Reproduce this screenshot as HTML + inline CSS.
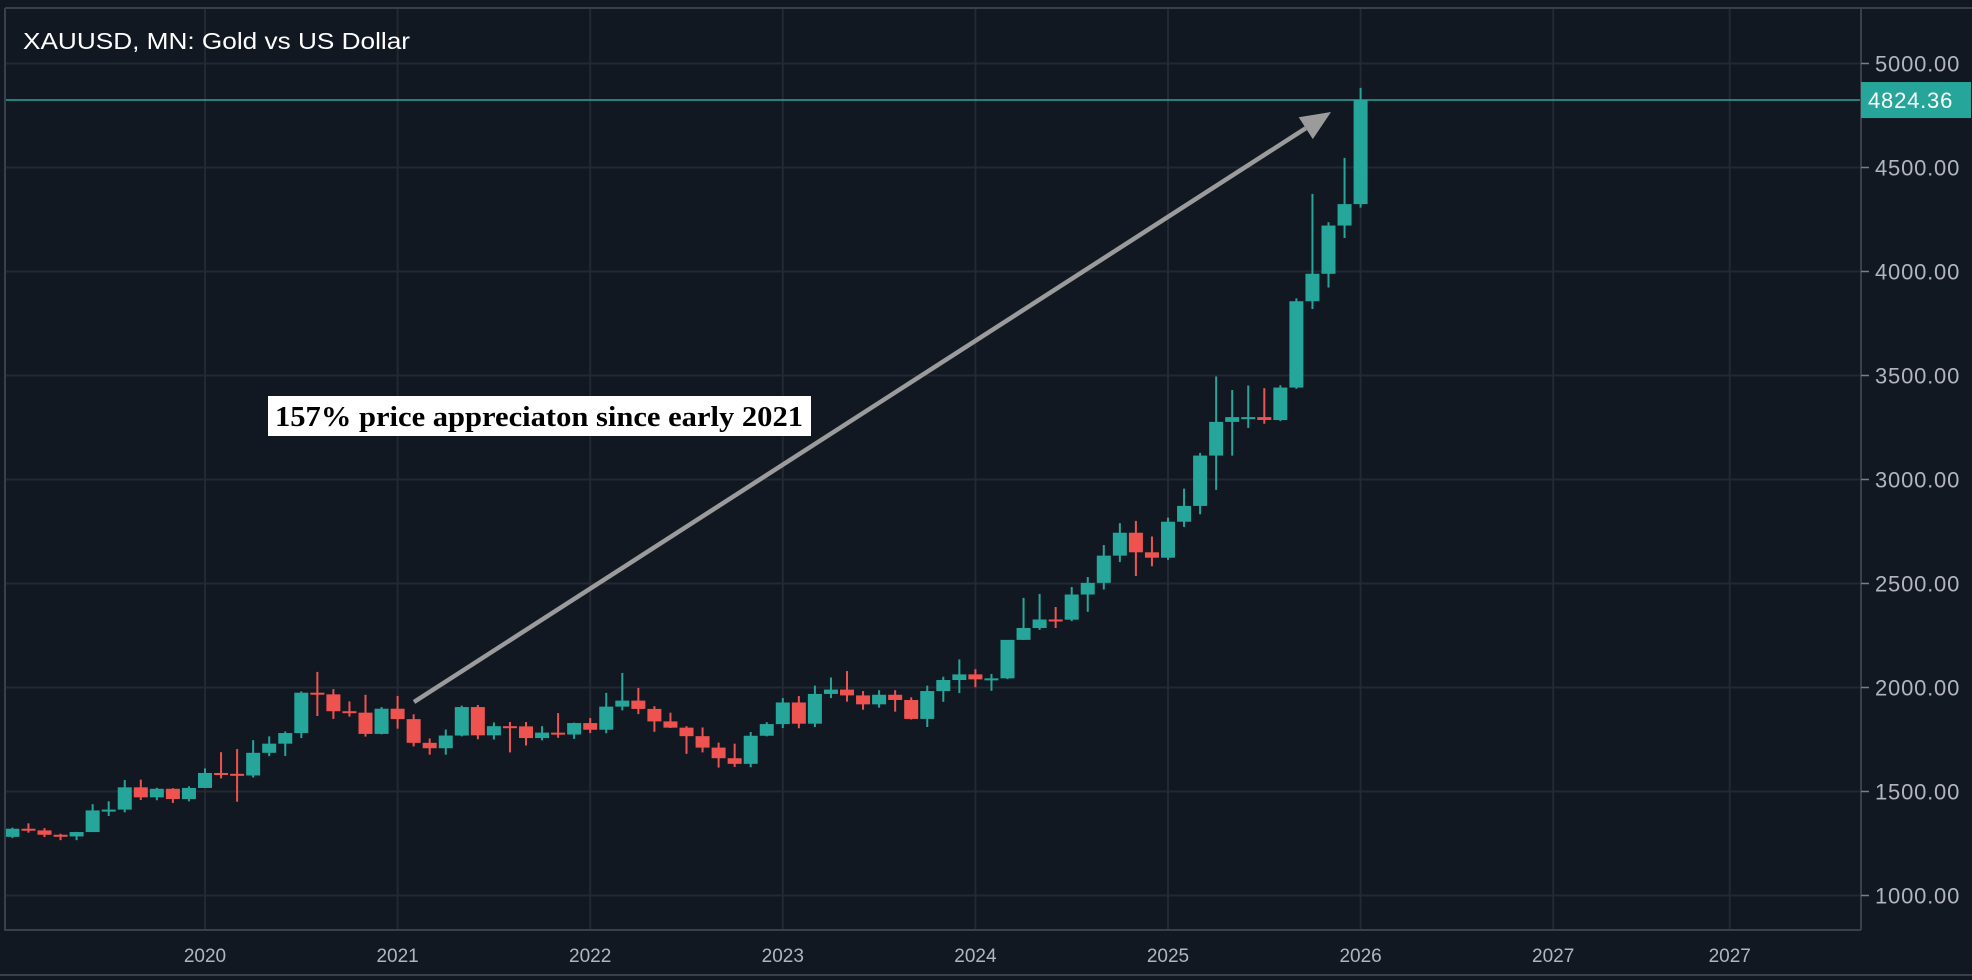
<!DOCTYPE html>
<html><head><meta charset="utf-8"><style>
html,body{margin:0;padding:0;background:#121822;}
svg{display:block;}
text{font-family:"Liberation Sans","DejaVu Sans",sans-serif;}
</style></head>
<body>
<svg id="chart" width="1972" height="980" viewBox="0 0 1972 980" xmlns="http://www.w3.org/2000/svg">
<rect x="0" y="0" width="1972" height="980" fill="#121822"/>
<g id="grid"></g>
<g id="candles"></g>
<g id="axes"></g>
</svg>
<script>
// monthly candles Jan 2019 .. Jan 2026
const months = ["2019-01","2019-02","2019-03","2019-04","2019-05","2019-06","2019-07","2019-08","2019-09","2019-10","2019-11","2019-12",
"2020-01","2020-02","2020-03","2020-04","2020-05","2020-06","2020-07","2020-08","2020-09","2020-10","2020-11","2020-12",
"2021-01","2021-02","2021-03","2021-04","2021-05","2021-06","2021-07","2021-08","2021-09","2021-10","2021-11","2021-12",
"2022-01","2022-02","2022-03","2022-04","2022-05","2022-06","2022-07","2022-08","2022-09","2022-10","2022-11","2022-12",
"2023-01","2023-02","2023-03","2023-04","2023-05","2023-06","2023-07","2023-08","2023-09","2023-10","2023-11","2023-12",
"2024-01","2024-02","2024-03","2024-04","2024-05","2024-06","2024-07","2024-08","2024-09","2024-10","2024-11","2024-12",
"2025-01","2025-02","2025-03","2025-04","2025-05","2025-06","2025-07","2025-08","2025-09","2025-10","2025-11","2025-12","2026-01"];
const opens = [1282,1321,1313,1292,1284,1305,1409,1413,1520,1472,1513,1464,
1517,1589,1585,1577,1686,1730,1781,1975,1967,1886,1879,1777,
1898,1848,1734,1708,1769,1906,1770,1814,1813,1757,1783,1774,
1829,1797,1908,1937,1897,1837,1807,1766,1711,1660,1633,1768,
1824,1928,1826,1969,1990,1962,1919,1965,1940,1849,1983,2036,
2063,2039,2044,2229,2286,2327,2326,2447,2503,2634,2744,2650,
2624,2797,2873,3115,3277,3300,3300,3286,3442,3857,3989,4221,4324];
const highs = [1326,1347,1324,1297,1306,1439,1453,1555,1557,1518,1516,1525,
1611,1689,1704,1747,1765,1789,1981,2075,1992,1933,1965,1906,
1959,1871,1755,1798,1913,1916,1832,1834,1834,1814,1877,1831,
1853,1974,2070,1998,1910,1879,1814,1808,1735,1730,1786,1833,
1949,1959,2009,2048,2079,1983,1987,1987,1953,2009,2052,2135,
2088,2065,2223,2431,2450,2387,2483,2531,2685,2790,2801,2726,
2817,2956,3128,3495,3430,3452,3439,3453,3871,4373,4237,4546,4883];
const lows = [1276,1302,1281,1266,1266,1305,1382,1400,1459,1458,1445,1453,
1517,1563,1451,1567,1670,1671,1757,1863,1849,1860,1764,1775,
1802,1717,1677,1677,1765,1751,1750,1688,1721,1746,1758,1753,
1781,1780,1890,1872,1787,1805,1681,1688,1615,1618,1617,1765,
1805,1804,1810,1949,1932,1893,1903,1884,1846,1810,1931,1973,
2001,1984,2040,2228,2277,2286,2319,2364,2471,2603,2536,2583,
2614,2772,2833,2950,3115,3248,3268,3281,3436,3820,3923,4161,4307];
const closes = [1321,1313,1292,1284,1305,1409,1413,1520,1472,1513,1464,1517,
1589,1585,1577,1686,1730,1781,1975,1967,1886,1879,1777,1898,
1848,1734,1708,1769,1906,1770,1814,1813,1757,1783,1774,1829,
1797,1908,1937,1897,1837,1807,1766,1711,1660,1633,1768,1824,
1928,1826,1969,1990,1962,1919,1965,1940,1849,1983,2036,2063,
2039,2044,2229,2286,2327,2326,2447,2503,2634,2744,2650,2624,
2797,2873,3115,3277,3300,3300,3286,3442,3857,3989,4221,4324,4824.36];
const priceTicks = [1000,1500,2000,2500,3000,3500,4000,4500,5000];
const yearLabels = ["2020","2021","2022","2023","2024","2025","2026","2027","2027"];
const yearMonthIdx = [12,24,36,48,60,72,84,96,107];
const lastPrice = 4824.36;

const NS="http://www.w3.org/2000/svg";
function mk(tag,attrs,parent){const e=document.createElementNS(NS,tag);for(const k in attrs)e.setAttribute(k,attrs[k]);parent.appendChild(e);return e;}
function xScale(i){return 205+(i-12)*16.05;}
function yScale(p){return 63.5+(5000-p)*0.208;}
const PLOT_R=1861, PLOT_B=930, PLOT_T=8, PLOT_L=5;
const grid=document.getElementById('grid'), cg=document.getElementById('candles'), ax=document.getElementById('axes');

priceTicks.forEach(p=>{
  const l=mk('line',{x1:PLOT_L,x2:PLOT_R,y1:yScale(p),y2:yScale(p),stroke:'#232833','stroke-width':2},grid);
  
  
});
yearMonthIdx.forEach(i=>{
  const l=mk('line',{x1:xScale(i),x2:xScale(i),y1:PLOT_T,y2:PLOT_B,stroke:'#232833','stroke-width':2},grid);
  
  
});

const lp=mk('line',{x1:PLOT_L,x2:PLOT_R,y1:yScale(lastPrice),y2:yScale(lastPrice),stroke:'#26a69a','stroke-width':1.5},grid);



for(let i=0;i<months.length;i++){
  const up=closes[i]>=opens[i];
  const col=up?'#26a69a':'#ef5350';
  const x=xScale(i);
  const g=mk('g',{},cg);
  
  
  mk('line',{x1:x,x2:x,y1:yScale(highs[i]),y2:yScale(lows[i]),stroke:col,'stroke-width':2},g);
  const top=yScale(Math.max(opens[i],closes[i])), bot=yScale(Math.min(opens[i],closes[i]));
  mk('rect',{x:x-7,y:top,width:14,height:Math.max(2,bot-top),fill:col},g);
}

const fr=mk('path',{d:`M${PLOT_L} ${PLOT_T} H1972 M${PLOT_L} ${PLOT_T} V${PLOT_B} H${PLOT_R} M${PLOT_R} ${PLOT_T} V${PLOT_B} M0 975 H1972`,stroke:'#3a3f4b','stroke-width':2,fill:'none'},ax);



priceTicks.forEach(p=>{
  const y=yScale(p);
  mk('line',{x1:PLOT_R,x2:PLOT_R+8,y1:y,y2:y,stroke:'#7a7f8a','stroke-width':1.5},ax);
  const t=mk('text',{x:1875,y:y+8,fill:'#b2b5be','font-size':22,'letter-spacing':'0.8'},ax);
  
  
  t.textContent=p.toFixed(2);
});
yearLabels.forEach((lab,k)=>{
  const t=mk('text',{x:xScale(yearMonthIdx[k]),y:962,fill:'#b2b5be','font-size':19,'text-anchor':'middle'},ax);
  
  
  t.textContent=lab;
});

const by=yScale(lastPrice);
const badge=mk('rect',{x:PLOT_R,y:by-18,width:110,height:36,fill:'#26a69a'},ax);


const bt=mk('text',{x:1868,y:by+8,fill:'#ffffff','font-size':22,'letter-spacing':'0.8'},ax);


bt.textContent=lastPrice.toFixed(2);

const title=mk('text',{x:23,y:49,fill:'#ffffff','font-size':23,textLength:387,lengthAdjust:'spacingAndGlyphs'},ax);


title.textContent='XAUUSD, MN: Gold vs US Dollar';

const ag=mk('g',{},ax);


const x1=414,y1=702,x2=1331,y2=112;
const ang=Math.atan2(y2-y1,x2-x1), L=30, W=13;
const bx=x2-L*Math.cos(ang), byy=y2-L*Math.sin(ang);
mk('line',{x1:x1,y1:y1,x2:bx,y2:byy,stroke:'#9b9b9b','stroke-width':4.5},ag);
mk('polygon',{points:`${x2},${y2} ${bx+W*Math.sin(ang)},${byy-W*Math.cos(ang)} ${bx-W*Math.sin(ang)},${byy+W*Math.cos(ang)}`,fill:'#9b9b9b'},ag);

const an=mk('g',{},ax);


mk('rect',{x:268,y:396,width:543,height:40,fill:'#ffffff'},an);
const at=mk('text',{x:275,y:426,fill:'#000000','font-size':28,'font-weight':'bold',textLength:528,lengthAdjust:'spacingAndGlyphs',style:'font-family:"Liberation Serif",serif'},an);
at.textContent='157% price appreciaton since early 2021';
</script>
</body></html>
